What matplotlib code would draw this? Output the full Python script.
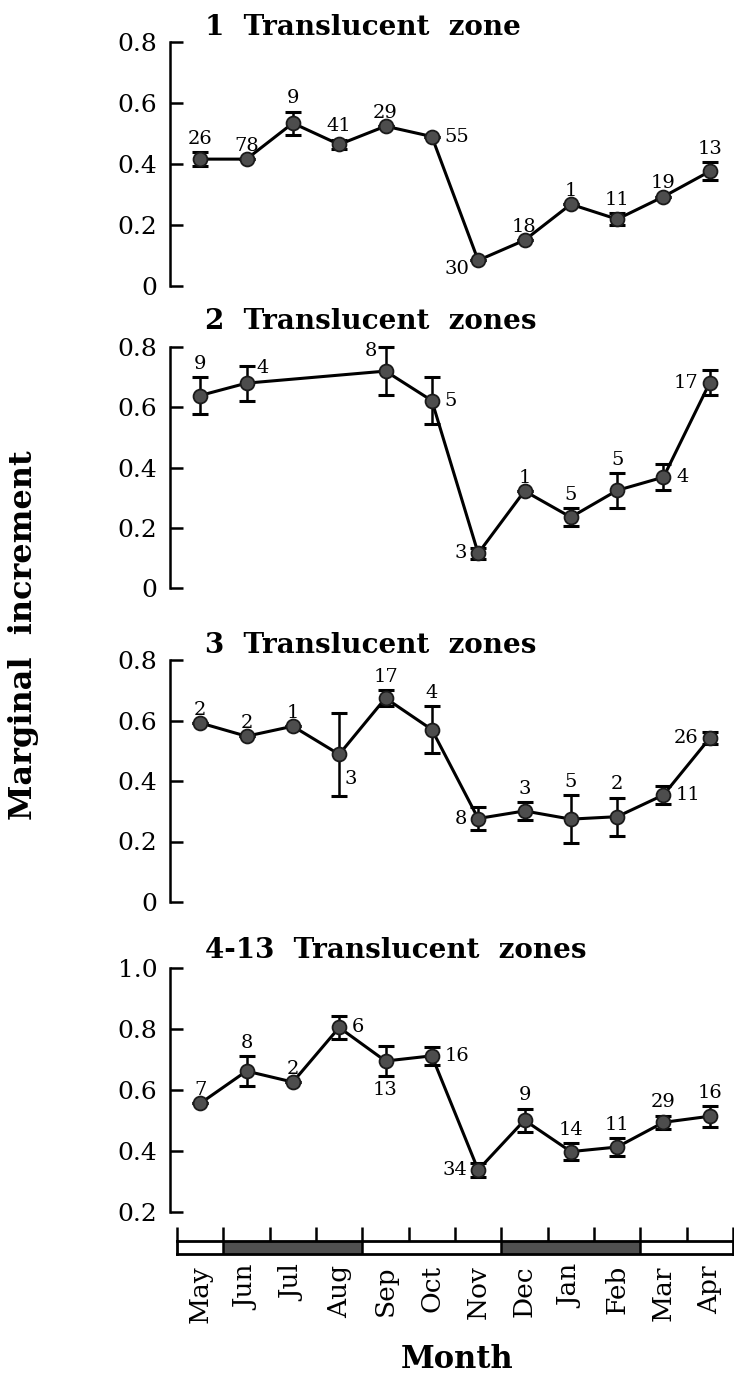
import numpy as np
import matplotlib.pyplot as plt

plt.rcParams['font.family'] = ['DejaVu Serif']

months = ['May', 'Jun', 'Jul', 'Aug', 'Sep', 'Oct', 'Nov', 'Dec', 'Jan', 'Feb', 'Mar', 'Apr']

# mean marginal increment, error (half-range), sample size
titles = ['1  Translucent  zone', '2  Translucent  zones', '3  Translucent  zones', '4-13  Translucent  zones']

mi1 = [0.416, 0.416, 0.534, 0.464, 0.524, 0.490, 0.084, 0.150, 0.268, 0.219, 0.293, 0.376]
er1 = [0.023, 0.0, 0.038, 0.016, 0.0, 0.0, 0.0, 0.0, 0.0, 0.019, 0.0, 0.029]
n1 = [26, 78, 9, 41, 29, 55, 30, 18, 1, 11, 19, 13]

mi2 = [0.639, 0.680, np.nan, np.nan, 0.720, 0.622, 0.115, 0.322, 0.235, 0.324, 0.368, 0.682]
er2 = [0.060, 0.058, 0.0, 0.0, 0.080, 0.079, 0.018, 0.0, 0.030, 0.058, 0.042, 0.041]
n2 = [9, 4, None, None, 8, 5, 3, 1, 5, 5, 4, 17]

mi3 = [0.592, 0.548, 0.581, 0.488, 0.674, 0.570, 0.276, 0.301, 0.274, 0.282, 0.354, 0.542]
er3 = [0.0, 0.0, 0.0, 0.138, 0.026, 0.079, 0.038, 0.030, 0.080, 0.063, 0.030, 0.020]
n3 = [2, 2, 1, 3, 17, 4, 8, 3, 5, 2, 11, 26]

mi4 = [0.556, 0.662, 0.626, 0.805, 0.695, 0.712, 0.338, 0.501, 0.398, 0.413, 0.494, 0.514]
er4 = [0.0, 0.050, 0.0, 0.037, 0.048, 0.029, 0.022, 0.038, 0.029, 0.028, 0.022, 0.034]
n4 = [7, 8, 2, 6, 13, 16, 34, 9, 14, 11, 29, 16]

# where the sample size label sits: a=above, r=right, l=left, b=below, rb=right-below
pos1 = ['a', 'a', 'a', 'a', 'a', 'r', 'lb', 'a', 'a', 'a', 'a', 'a']
pos2 = ['a', 'ra', None, None, 'la', 'r', 'l', 'a', 'a', 'a', 'r', 'l']
pos3 = ['a', 'a', 'a', 'rb', 'a', 'a', 'l', 'a', 'a', 'a', 'r', 'l']
pos4 = ['a', 'a', 'a', 'r', 'b', 'r', 'l', 'a', 'a', 'a', 'a', 'a']

# season bar under the x axis (1 = dark)
season = [0, 1, 1, 1, 0, 0, 0, 1, 1, 1, 0, 0]

W, H = 734, 1386
fig = plt.figure(figsize=(W / 100, H / 100), dpi=100)

x0, x1 = 177, 733
panels = [(42, 286, (0, 0.8)), (347, 588, (0, 0.8)), (660, 902, (0, 0.8)), (968, 1212, (0.2, 1.0))]
title_base = [35, 329, 653, 958]
data = [(mi1, er1, n1, pos1), (mi2, er2, n2, pos2), (mi3, er3, n3, pos3), (mi4, er4, n4, pos4)]
x = np.arange(12)

for k in range(4):
    top, bot, yl = panels[k]
    ax = fig.add_axes([x0 / W, 1 - bot / H, (x1 - x0) / W, (bot - top) / H])
    mi, er, n, pos = data[k]
    mi = np.array(mi, dtype=float)
    er = np.array(er)
    ok = ~np.isnan(mi)
    ax.plot(x[ok], mi[ok], '-', color='k', lw=2.2, zorder=2, clip_on=False)
    ax.errorbar(x[ok], mi[ok], yerr=er[ok], fmt='none', ecolor='k', elinewidth=1.8,
                capsize=5.5, capthick=2.2, zorder=3, clip_on=False)
    ax.plot(x[ok], mi[ok], 'o', ms=10, mfc='#4d4d4d', mec='#1a1a1a', mew=1.3, zorder=4,
            clip_on=False)
    for i in range(12):
        if not ok[i]:
            continue
        p = pos[i]
        if p == 'a':
            xy, off, ha, va = (i, mi[i] + er[i]), (0, 3), 'center', 'bottom'
        elif p == 'b':
            xy, off, ha, va = (i, mi[i] - er[i]), (0, -4), 'center', 'top'
        elif p == 'r':
            xy, off, ha, va = (i, mi[i]), (9, 0), 'left', 'center'
        elif p == 'l':
            xy, off, ha, va = (i, mi[i]), (-8, 0), 'right', 'center'
        elif p == 'ra':
            xy, off, ha, va = (i, mi[i] + er[i]), (7, -2), 'left', 'center'
        elif p == 'la':
            xy, off, ha, va = (i, mi[i] + er[i]), (-6, -3), 'right', 'center'
        elif p == 'lb':
            xy, off, ha, va = (i, mi[i]), (-6, -6), 'right', 'center'
        else:
            xy, off, ha, va = (i, mi[i]), (4, -18), 'left', 'center'
        ax.annotate(str(n[i]), xy, xytext=off, textcoords='offset points',
                    ha=ha, va=va, fontsize=14)
    ax.set_xlim(-0.5, 11.5)
    ax.set_ylim(*yl)
    ticks = np.round(np.arange(yl[0], yl[1] + 0.01, 0.2), 1)
    ax.set_yticks(ticks)
    ax.set_yticklabels(['0' if t == 0 else '%.1f' % t for t in ticks])
    ax.set_xticks([])
    for s in ['top', 'right', 'bottom']:
        ax.spines[s].set_visible(False)
    ax.spines['left'].set_linewidth(1.8)
    ax.spines['left'].set_position(('outward', 5))
    ax.tick_params(axis='y', direction='in', length=9, width=1.8, labelsize=18, pad=9)
    ax.patch.set_alpha(0)
    fig.text(205 / W, 1 - title_base[k] / H, titles[k], ha='left', va='baseline',
             fontsize=20, fontweight='bold')

# month / season bar
axb = fig.add_axes([x0 / W, 1 - 1254 / H, (x1 - x0) / W, 13 / H])
axb.set_xlim(0, 12)
axb.set_ylim(0, 1)
for i in range(12):
    if season[i]:
        axb.axvspan(i, i + 1, color='#505050', lw=0)
    if i > 0 and season[i] != season[i - 1]:
        axb.axvline(i, color='k', lw=1.8)
axb.set_yticks([])
for s in axb.spines.values():
    s.set_linewidth(2)
axb.set_xticks(np.arange(13))
axb.set_xticks(x + 0.5, minor=True)
axb.set_xticklabels(months, minor=True, rotation=90, fontsize=19)
axb.tick_params(which='major', top=True, bottom=False, labelbottom=False, direction='out',
                length=10, width=1.8)
axb.tick_params(which='minor', bottom=True, length=0, pad=8)

fig.text(457 / W, 1 - 1360 / H, 'Month', ha='center', va='center', fontsize=22,
         fontweight='bold')
fig.text(24 / W, 1 - 635 / H, 'Marginal  increment', ha='center', va='center', fontsize=23,
         fontweight='bold', rotation=90)

fig.savefig('out.png', dpi=100)
